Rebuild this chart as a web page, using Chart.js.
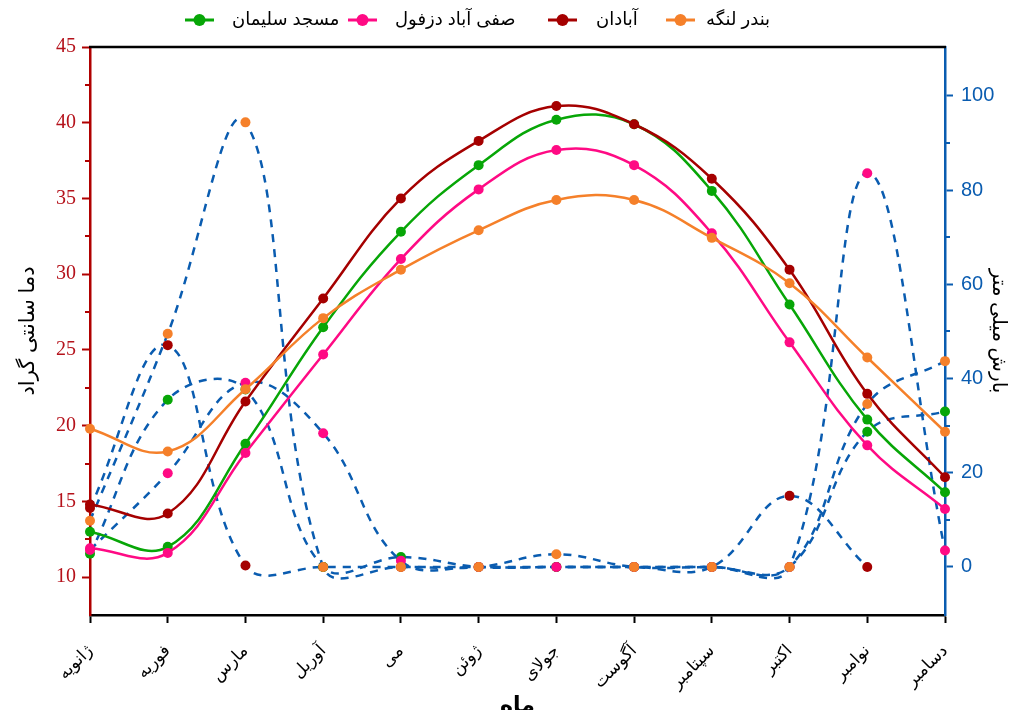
<!DOCTYPE html>
<html><head><meta charset="utf-8">
<script src="https://cdn.jsdelivr.net/npm/chart.js@4.4.1/dist/chart.umd.min.js"></script>
<style>html,body{margin:0;padding:0;background:#fff;}canvas{display:block;}</style>
</head><body>
<canvas id="c" width="1019" height="710"></canvas>
<script>
// ---- data ----
const months = ['ژانویه','فوریه','مارس','آوریل','می','ژوئن','جولای','آگوست','سپتامبر','اکتبر','نوامبر','دسامبر'];
const stationNames = ['مسجد سلیمان','صفی آباد دزفول','آبادان','بندر لنگه'];
const stationColors = ['#07a607','#ff0a84','#a50000','#f5802a'];
// temperature (°C, left axis)
const tempMasjed   = [13.0, 12.0, 18.8, 26.5, 32.8, 37.2, 40.2, 39.9, 35.5, 28.0, 20.4, 15.6];
const tempSafiabad = [11.9, 11.6, 18.2, 24.7, 31.0, 35.6, 38.2, 37.2, 32.7, 25.5, 18.7, 14.5];
const tempAbadan   = [14.8, 14.2, 21.6, 28.4, 35.0, 38.8, 41.1, 39.9, 36.3, 30.3, 22.1, 16.6];
const tempLengeh   = [19.8, 18.3, 22.4, 27.1, 30.3, 32.9, 34.9, 34.9, 32.4, 29.4, 24.5, 19.6];
// precipitation (mm, right axis)
const rainMasjed   = [2.8, 35.5, 37.7, 0, 2.1, 0, 0, 0, 0, 0, 28.7, 33.0];
const rainSafiabad = [3.6, 19.9, 39.1, 28.4, 1.3, 0, 0, 0, 0, 0, 83.6, 3.5];
const rainAbadan   = [12.5, 47.1, 0.3, 0, 0, 0, 0, 0, 0, 15.1, 0, null];
const rainLengeh   = [9.8, 49.5, 94.4, 0, 0, 0, 2.7, 0, 0, 0, 34.6, 43.7];
// axis ticks
const leftMajor = [10, 15, 20, 25, 30, 35, 40, 45];
const leftMinor = [12.5, 17.5, 22.5, 27.5, 32.5, 37.5, 42.5];
const rightMajor = [0, 20, 40, 60, 80, 100];
const rightMinor = [10, 30, 50, 70, 90];
const axisTitleLeft = 'دما سانتی گراد';
const axisTitleRight = 'بارش میلی متر';
const axisTitleX = 'ماه';

// legend layout: symbol start x, text start x
const legendSymX = [185, 348, 548, 666];
const legendTextX = [232, 395, 596, 706];

const temps = [tempMasjed, tempSafiabad, tempAbadan, tempLengeh];
const rains = [rainMasjed, rainSafiabad, rainAbadan, rainLengeh];
const RED = '#b00000', BLUE = '#0a5cb0';
const FA = '"Liberation Sans","DejaVu Sans",sans-serif';

const datasets = [];
[3,2,1,0].forEach(i => datasets.push({
  label: stationNames[i], data: temps[i], yAxisID: 'y',
  borderColor: stationColors[i], backgroundColor: stationColors[i],
  borderWidth: 2.5, tension: 0.4, pointRadius: 5, pointHoverRadius: 5,
  pointBorderWidth: 0
}));
[3,1,0,2].forEach(i => datasets.push({
  label: stationNames[i] + ' rain', data: rains[i], yAxisID: 'y1',
  borderColor: BLUE, backgroundColor: stationColors[i], pointBackgroundColor: stationColors[i],
  borderWidth: 2.5, borderDash: [8, 7], tension: 0.4, pointRadius: 5, pointHoverRadius: 5,
  pointBorderWidth: 0, spanGaps: false
}));

const extras = {
  id: 'extras',
  afterDraw(chart) {
    const {ctx, chartArea: a, scales} = chart;
    ctx.save();
    ctx.strokeStyle = '#000'; ctx.lineWidth = 2.5;
    ctx.beginPath(); ctx.moveTo(a.left - 1, a.top); ctx.lineTo(a.right + 1, a.top); ctx.stroke();
    ctx.lineWidth = 2;
    ctx.strokeStyle = RED;
    leftMinor.forEach(v => { const y = Math.round(scales.y.getPixelForValue(v)); ctx.beginPath(); ctx.moveTo(a.left, y); ctx.lineTo(a.left - 5, y); ctx.stroke(); });
    ctx.strokeStyle = BLUE;
    rightMinor.forEach(v => { const y = Math.round(scales.y1.getPixelForValue(v)); ctx.beginPath(); ctx.moveTo(a.right, y); ctx.lineTo(a.right + 5, y); ctx.stroke(); });
    // legend
    ctx.font = '18px ' + FA;
    ctx.textBaseline = 'middle';
    const symW = 29, ly = 20;
    stationNames.forEach((n, i) => {
      const x = legendSymX[i];
      ctx.strokeStyle = stationColors[i]; ctx.fillStyle = stationColors[i]; ctx.lineWidth = 3;
      ctx.beginPath(); ctx.moveTo(x, ly); ctx.lineTo(x + symW, ly); ctx.stroke();
      ctx.beginPath(); ctx.arc(x + symW / 2, ly, 6, 0, Math.PI * 2); ctx.fill();
      ctx.fillStyle = '#000'; ctx.textAlign = 'left';
      ctx.fillText(n, legendTextX[i], ly);
    });
    ctx.restore();
  }
};

new Chart(document.getElementById('c'), {
  type: 'line',
  data: { labels: months, datasets },
  options: {
    responsive: false, animation: false, devicePixelRatio: 1,
    layout: { padding: { top: 47, left: 0, right: 0, bottom: 0 } },
    plugins: { legend: { display: false }, tooltip: { enabled: false } },
    scales: {
      x: {
        type: 'category', offset: false,
        grid: { display: true, drawOnChartArea: false, drawTicks: true, tickLength: 8, tickColor: '#000', tickWidth: 2, offset: false },
        border: { display: true, color: '#000', width: 2.5 },
        ticks: { color: '#000', font: { size: 17, family: FA }, minRotation: 45, maxRotation: 45, padding: 18, autoSkip: false },
        title: { display: true, text: axisTitleX, color: '#000', font: { size: 22, weight: 'bold', family: FA }, padding: { top: 0, bottom: -9 } },
        afterFit(s) { s.height = 95; s.paddingLeft = 0; s.paddingRight = 0; }
      },
      y: {
        position: 'left', min: 7.5, max: 45,
        afterBuildTicks(s) { s.ticks = leftMajor.map(v => ({ value: v })); },
        grid: { drawOnChartArea: false, drawTicks: true, tickLength: 8, tickColor: RED, tickWidth: 2 },
        border: { display: true, color: RED, width: 2.5 },
        ticks: { color: '#b5121b', font: { size: 20, family: '"Liberation Serif",serif' }, padding: 6 },
        title: { display: true, text: axisTitleLeft, color: '#000', font: { size: 21, family: FA }, padding: { top: 16, bottom: 0 } },
        afterFit(s) { s.width = 90; s.paddingTop = 0; s.paddingBottom = 0; }
      },
      y1: {
        position: 'right', min: -10.2, max: 110.4,
        afterBuildTicks(s) { s.ticks = rightMajor.map(v => ({ value: v })); },
        grid: { drawOnChartArea: false, drawTicks: true, tickLength: 8, tickColor: BLUE, tickWidth: 2 },
        border: { display: true, color: BLUE, width: 2.5 },
        ticks: { color: BLUE, font: { size: 20, family: '"Liberation Sans",sans-serif' }, padding: 8 },
        title: { display: true, text: axisTitleRight, color: '#000', font: { size: 20, family: FA }, padding: { top: 8, bottom: 0 } },
        afterFit(s) { s.width = 74; s.paddingTop = 0; s.paddingBottom = 0; }
      }
    }
  },
  plugins: [extras]
});
</script>
</body></html>
